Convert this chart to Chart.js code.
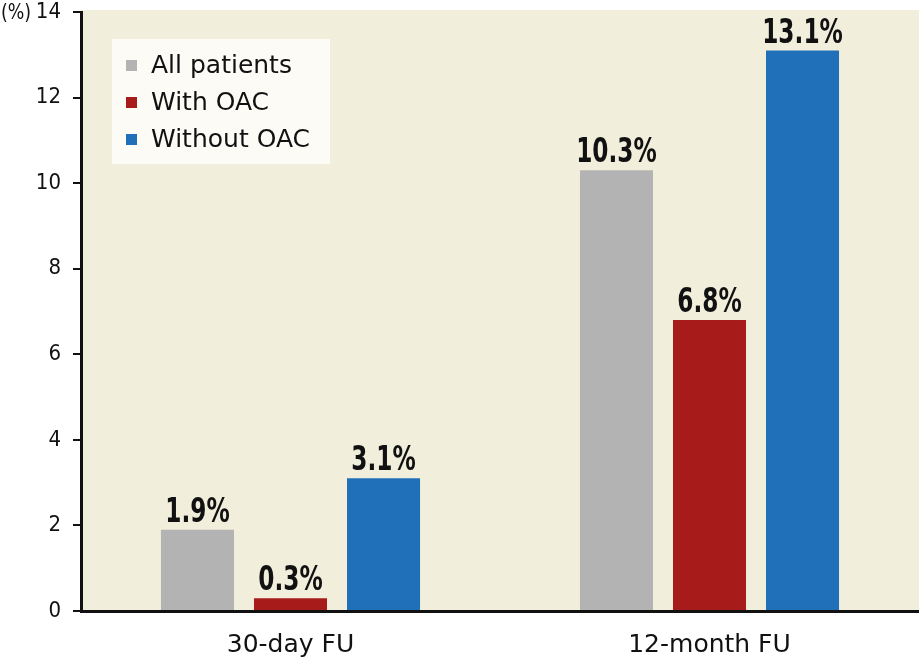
<!DOCTYPE html>
<html>
<head>
<meta charset="utf-8">
<script src="https://cdn.jsdelivr.net/npm/chart.js@4.4.0/dist/chart.umd.min.js"></script>
<style>
  html, body { margin: 0; padding: 0; background: #fff; }
  #wrap { width: 919px; height: 661px; }
</style>
</head>
<body>
<div id="wrap"><canvas id="c"></canvas></div>
<script>
// values
const categories = ["30-day FU", "12-month FU"];
const seriesNames = ["All patients", "With OAC", "Without OAC"];
const allPatients = [1.9, 10.3];
const withOAC = [0.3, 6.8];
const withoutOAC = [3.1, 13.1];
const yTicks = [0, 2, 4, 6, 8, 10, 12, 14];

const colors = ["#b3b3b3", "#a71b1b", "#1f70b8"];
const condensed = '"DejaVu Sans Condensed", sans-serif';

// cream plot background + "(%)" unit
const backdrop = {
  id: "backdrop",
  beforeDraw(chart) {
    const { ctx, chartArea: a } = chart;
    ctx.save();
    ctx.fillStyle = "#f2eedc";
    ctx.fillRect(a.left, a.top - 2, a.right - a.left, a.bottom - a.top + 2);
    ctx.fillStyle = "#111";
    ctx.font = "22px " + condensed;
    ctx.textBaseline = "middle";
    ctx.translate(1, a.top + 1);
    ctx.scale(0.88, 1);
    ctx.fillText("(%)", 0, 0);
    ctx.restore();
  }
};

// value labels over the bars + legend box in the plot
const overlay = {
  id: "overlay",
  afterDatasetsDraw(chart) {
    const { ctx } = chart;
    ctx.save();
    ctx.fillStyle = "#111";
    ctx.font = "bold 34px " + condensed;
    ctx.textAlign = "center";
    ctx.textBaseline = "alphabetic";
    const squeeze = 0.76;
    chart.data.datasets.forEach((ds, i) => {
      chart.getDatasetMeta(i).data.forEach((bar, j) => {
        ctx.save();
        ctx.translate(bar.x, bar.y - 8);
        ctx.scale(squeeze, 1);
        ctx.fillText(ds.data[j].toFixed(1) + "%", 0, 0);
        ctx.restore();
      });
    });

    // legend
    const a = chart.chartArea;
    const bx = a.left + 31, by = a.top + 27;
    ctx.fillStyle = "#fcfbf6";
    ctx.fillRect(bx, by, 218, 125);
    ctx.textAlign = "left";
    ctx.font = "25px 'DejaVu Sans', sans-serif";
    chart.data.datasets.forEach((ds, i) => {
      const y = by + 34 + i * 37;
      ctx.fillStyle = ds.backgroundColor;
      ctx.fillRect(bx + 14, y - 13, 11, 11);
      ctx.fillStyle = "#111";
      ctx.fillText(ds.label, bx + 39, y);
    });
    ctx.restore();
  }
};

const seriesValues = [allPatients, withOAC, withoutOAC];

new Chart(document.getElementById("c"), {
  type: "bar",
  data: {
    labels: categories,
    datasets: seriesNames.map((name, i) => ({
      label: name,
      data: seriesValues[i],
      backgroundColor: colors[i],
      categoryPercentage: 0.666,
      barPercentage: 0.785
    }))
  },
  options: {
    responsive: true,
    maintainAspectRatio: false,
    animation: false,
    layout: { padding: { top: 12, right: 0, left: 0, bottom: 0 } },
    plugins: {
      legend: { display: false },
      tooltip: { enabled: false }
    },
    scales: {
      x: {
        grid: { display: false },
        border: { color: "#111", width: 3 },
        ticks: { color: "#111", font: { family: "DejaVu Sans", size: 25 }, padding: 11 },
        afterFit: (s) => { s.height = 50; }
      },
      y: {
        min: 0,
        max: 14,
        afterBuildTicks: (s) => { s.ticks = yTicks.map(v => ({ value: v })); },
        grid: { drawOnChartArea: false, drawTicks: true, tickLength: 8, color: "#111", lineWidth: 2 },
        border: { color: "#111", width: 3 },
        ticks: { color: "#111", font: { family: "DejaVu Sans Condensed", size: 22 }, padding: 12 },
        afterFit: (s) => { s.width = 81; s.paddingTop = 0; s.paddingBottom = 0; }
      }
    }
  },
  plugins: [backdrop, overlay]
});
</script>
</body>
</html>
